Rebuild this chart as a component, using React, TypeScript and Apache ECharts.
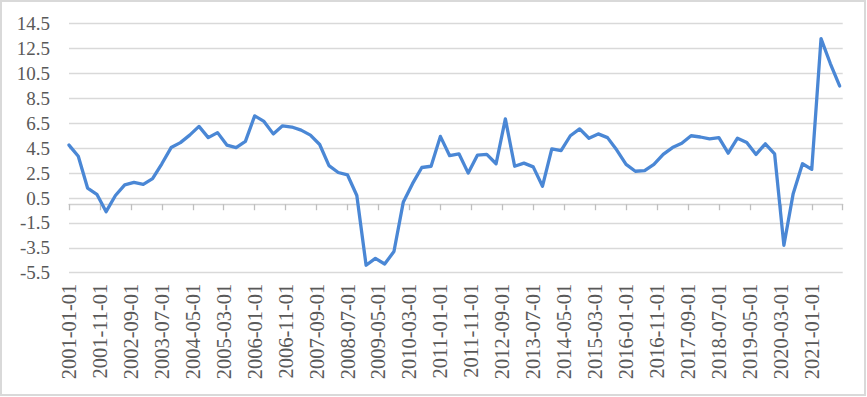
import React, { useEffect, useRef } from "react";
import * as echarts from "echarts";

// Quarterly observations, 2001-01-01 through 2021-10-01
const startYear = 2001;
const endYear = 2021;
const endMonth = 11; // axis extends to 2021-11
const quarterValues: number[] = [
  4.75, 3.85, 1.3, 0.8, -0.6, 0.7, 1.55, 1.75, 1.6, 2.05,
  3.25, 4.55, 4.95, 5.55, 6.25, 5.35, 5.75, 4.75, 4.55, 5.05,
  7.1, 6.65, 5.65, 6.3, 6.2, 5.95, 5.55, 4.8, 3.1, 2.55,
  2.35, 0.7, -4.9, -4.35, -4.8, -3.8, 0.15, 1.65, 2.95, 3.05,
  5.45, 3.9, 4.05, 2.5, 3.95, 4.0, 3.25, 6.85, 3.05, 3.3,
  3.0, 1.45, 4.45, 4.3, 5.5, 6.05, 5.3, 5.65, 5.35, 4.35,
  3.2, 2.65, 2.7, 3.2, 4.0, 4.55, 4.9, 5.5, 5.4, 5.25,
  5.35, 4.1, 5.3, 4.95, 4.0, 4.85, 4.05, -3.3, 0.85, 3.25,
  2.8, 13.3, 11.3, 9.5,
];
const yMin = -5.5;
const yMax = 14.5;
const yStep = 2;
const labelEveryMonths = 10;

function buildMonths(): string[] {
  const out: string[] = [];
  for (let y = startYear; y <= endYear; y++) {
    for (let m = 1; m <= 12; m++) {
      if (y === endYear && m > endMonth) break;
      out.push(`${y}-${String(m).padStart(2, "0")}-01`);
    }
  }
  return out;
}

export default function App() {
  const ref = useRef<HTMLDivElement>(null);
  useEffect(() => {
    if (!ref.current) return;
    const chart = echarts.init(ref.current, undefined, { renderer: "svg" });
    const months = buildMonths();
    const lastLabelIdx = months.length - 2;
    const seriesData = quarterValues.map((v, i) => [i * 3, v]);
    const font = "'Liberation Serif', 'Times New Roman', serif";
    chart.setOption({
      animation: false,
      backgroundColor: "#ffffff",
      graphic: [
        {
          type: "rect",
          shape: { x: 1, y: 1, width: 864, height: 394 },
          style: { fill: "none", stroke: "#D9D9D9", lineWidth: 2 },
          silent: true,
        },
      ],
      grid: { left: 69, right: 24.3, top: 23.7, bottom: 124.3, containLabel: false },
      xAxis: [
        {
          type: "category",
          data: months,
          boundaryGap: false,
          position: "bottom",
          axisLine: { show: true, onZero: true, lineStyle: { color: "#D0D0D0", width: 1.3 } },
          axisTick: {
            show: true,
            length: 6,
            interval: (idx: number) => idx % labelEveryMonths === 0,
            lineStyle: { color: "#BFBFBF", width: 1.3 },
          },
          axisLabel: { show: false },
          splitLine: { show: false },
        },
        {
          type: "category",
          data: months,
          boundaryGap: false,
          position: "bottom",
          axisLine: { show: false, onZero: false },
          axisTick: { show: false },
          axisLabel: {
            show: true,
            rotate: 90,
            margin: 11,
            interval: (idx: number) => idx % labelEveryMonths === 0 && idx <= lastLabelIdx,
            color: "#595959",
            fontFamily: font,
            fontSize: 20.5,
          },
          splitLine: { show: false },
        },
      ],
      yAxis: {
        type: "value",
        min: yMin,
        max: yMax,
        interval: yStep,
        axisLine: { show: false },
        axisTick: { show: false },
        axisLabel: {
          margin: 19,
          color: "#595959",
          fontFamily: font,
          fontSize: 19,
          formatter: (v: number) => v.toFixed(1),
        },
        splitLine: { show: true, lineStyle: { color: "#D9D9D9", width: 1.3 } },
      },
      series: [
        {
          type: "line",
          xAxisIndex: 0,
          data: seriesData,
          showSymbol: false,
          symbol: "none",
          lineStyle: { color: "#4A87D5", width: 3.3, join: "round", cap: "round" },
        },
      ],
    });
    return () => chart.dispose();
  }, []);
  return (
    <div
      ref={ref}
      style={{ position: "absolute", left: 0, top: 0, width: 867, height: 397 }}
    />
  );
}
